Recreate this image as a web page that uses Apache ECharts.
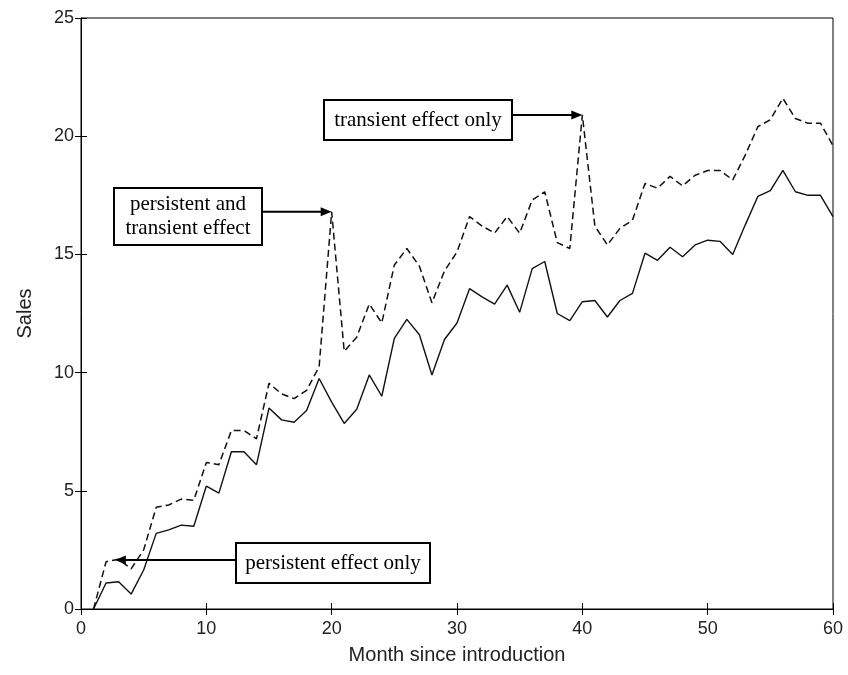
<!DOCTYPE html>
<html>
<head>
<meta charset="utf-8">
<script src="https://cdn.jsdelivr.net/npm/echarts@6/dist/echarts.min.js"></script>
<style>
  html, body { margin: 0; padding: 0; background: #fff; }
  #chart { width: 848px; height: 675px; }
</style>
</head>
<body>
<div id="chart"></div>
<script>
// month 1..60
const months = Array.from({length: 60}, (_, i) => i + 1);

// sales with the persistent effect only (solid)
const persistent = [
  0, 1.1, 1.15, 0.63, 1.65, 3.2, 3.35, 3.55, 3.5, 5.2,
  4.9, 6.65, 6.65, 6.1, 8.5, 8.0, 7.9, 8.4, 9.75, 8.75,
  7.85, 8.45, 9.9, 9.0, 11.45, 12.25, 11.6, 9.9, 11.4, 12.1,
  13.55, 13.2, 12.9, 13.7, 12.55, 14.4, 14.7, 12.5, 12.2, 13.0,
  13.05, 12.35, 13.05, 13.35, 15.05, 14.75, 15.3, 14.9, 15.4, 15.6,
  15.55, 15.0, 16.25, 17.45, 17.7, 18.55, 17.65, 17.5, 17.5, 16.6
];

// sales with persistent and transient effect (dashed)
const total = [
  0, 2.0, 2.1, 1.7, 2.5, 4.3, 4.4, 4.65, 4.6, 6.2,
  6.1, 7.55, 7.55, 7.2, 9.55, 9.1, 8.9, 9.25, 10.25, 16.8,
  10.9, 11.5, 12.9, 12.1, 14.55, 15.25, 14.5, 12.95, 14.3, 15.1,
  16.6, 16.2, 15.9, 16.6, 15.9, 17.3, 17.65, 15.5, 15.25, 20.9,
  16.2, 15.4, 16.1, 16.45, 18.0, 17.8, 18.3, 17.9, 18.35, 18.55,
  18.55, 18.15, 19.2, 20.4, 20.7, 21.6, 20.75, 20.55, 20.55, 19.6
];

// annotation texts and the point each arrow points at [month, sales]
const noteTexts = ['persistent effect only', 'persistent and\ntransient effect', 'transient effect only'];
const noteTargets = [[2.7, 2.07], [20, 16.8], [40, 20.9]];

// box layout in pixels (left, top, width, height)
const noteBoxes = [[236, 543, 194, 40], [114, 188, 148, 57], [324, 100, 188, 40]];

const chart = echarts.init(document.getElementById('chart'));

const tickFont = {fontFamily: 'Liberation Sans', fontSize: 18, color: '#222'};
const nameFont = {fontFamily: 'Liberation Sans', fontSize: 20, color: '#222'};

const option = {
  animation: false,
  grid: {left: 81, right: 15, top: 18, bottom: 66, show: true, borderColor: '#000', borderWidth: 1},
  xAxis: [
    {
      type: 'value', min: 0, max: 60, interval: 10,
      name: 'Month since introduction', nameLocation: 'middle', nameGap: 36,
      nameTextStyle: nameFont,
      axisLine: {show: true, lineStyle: {color: '#000'}},
      axisTick: {inside: true, length: 6, lineStyle: {color: '#000'}},
      axisLabel: Object.assign({margin: 11}, tickFont),
      splitLine: {show: false}
    },
    {
      type: 'value', min: 0, max: 60, interval: 10, position: 'top',
      axisLine: {show: true, lineStyle: {color: '#000'}},
      axisTick: {inside: true, length: 6, lineStyle: {color: '#000'}},
      axisLabel: {show: false}, splitLine: {show: false}
    }
  ],
  yAxis: [
    {
      type: 'value', min: 0, max: 25, interval: 5,
      name: 'Sales', nameLocation: 'middle', nameGap: 46,
      nameTextStyle: nameFont,
      axisLine: {show: true, lineStyle: {color: '#000'}},
      axisTick: {inside: true, length: 6, lineStyle: {color: '#000'}},
      axisLabel: Object.assign({margin: 7}, tickFont),
      splitLine: {show: false}
    },
    {
      type: 'value', min: 0, max: 25, interval: 5, position: 'right',
      axisLine: {show: true, lineStyle: {color: '#000'}},
      axisTick: {inside: true, length: 6, lineStyle: {color: '#000'}},
      axisLabel: {show: false}, splitLine: {show: false}
    }
  ],
  series: [
    {
      type: 'line', name: 'persistent',
      data: months.map((m, i) => [m, persistent[i]]),
      showSymbol: false,
      lineStyle: {color: '#111', width: 1.4}
    },
    {
      type: 'line', name: 'total',
      data: months.map((m, i) => [m, total[i]]),
      showSymbol: false,
      lineStyle: {color: '#111', width: 1.5, type: [7, 4]}
    }
  ]
};

chart.setOption(option);

// annotation boxes with arrows
const graphics = [];
noteTexts.forEach((txt, i) => {
  const [bl, bt, bw, bh] = noteBoxes[i];
  const tip = chart.convertToPixel({xAxisIndex: 0, yAxisIndex: 0}, noteTargets[i]);
  const left = noteTargets[i][0] < 10;
  graphics.push({
    type: 'rect', z: 10,
    shape: {x: bl, y: bt, width: bw, height: bh},
    style: {fill: '#fff', stroke: '#000', lineWidth: 2}
  });
  graphics.push({
    type: 'text', z: 11,
    x: bl + bw / 2, y: bt + bh / 2,
    style: {
      text: txt, fill: '#000', align: 'center', verticalAlign: 'middle',
      font: '21px "Liberation Serif"', lineHeight: 24
    }
  });
  const startX = left ? bl : bl + bw;
  const dir = left ? -1 : 1;
  graphics.push({
    type: 'line', z: 10,
    shape: {x1: startX, y1: tip[1], x2: tip[0] - dir * 8, y2: tip[1]},
    style: {stroke: '#000', lineWidth: 2}
  });
  graphics.push({
    type: 'polygon', z: 10,
    shape: {points: [[tip[0], tip[1]], [tip[0] - dir * 11, tip[1] - 4.5], [tip[0] - dir * 11, tip[1] + 4.5]]},
    style: {fill: '#000'}
  });
});
chart.setOption({graphic: graphics});
</script>
</body>
</html>
